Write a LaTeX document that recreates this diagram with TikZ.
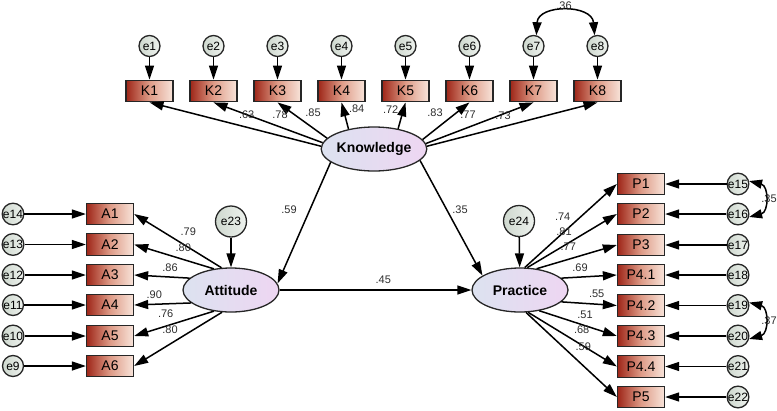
\documentclass[tikz,border=0pt]{standalone}
\usepackage{fontspec}
\setmainfont{Liberation Sans}
\usetikzlibrary{arrows.meta,shapes.geometric}
\definecolor{bxdark}{RGB}{158,38,24}
\definecolor{bxmid}{RGB}{222,155,135}
\definecolor{bxlight}{RGB}{248,228,218}
\definecolor{elleft}{RGB}{220,226,240}
\definecolor{elright}{RGB}{238,214,242}
\definecolor{ecdark}{RGB}{206,216,206}
\definecolor{eclight}{RGB}{238,242,238}
\definecolor{lblc}{RGB}{45,45,45}
\begin{document}
\begin{tikzpicture}[x=1pt,y=-1pt,
  obs/.style={draw=black!85, line width=1.3pt, minimum width=47pt, minimum height=21.5pt, inner sep=0pt,
    left color=bxdark, right color=bxlight, middle color=bxmid, font=\fontsize{14}{16}\selectfont},
  lat/.style={ellipse, draw=black!85, line width=1.3pt, minimum width=96pt, minimum height=44pt, inner sep=0pt,
    left color=elleft, right color=elright, font=\bfseries\fontsize{14}{16}\selectfont},
  err/.style={circle, draw=black!85, line width=1.3pt, minimum size=21pt, inner sep=0pt,
    left color=ecdark, right color=eclight, font=\fontsize{12}{13}\selectfont},
  errbig/.style={err, minimum size=31pt},
  arr/.style={-{Triangle[length=14pt,width=9pt]}, line width=1.5pt},
  cov/.style={{Triangle[length=13pt,width=9pt]}-{Triangle[length=13pt,width=9pt]}, line width=1.5pt},
  lab/.style={font=\fontsize{11}{12}\selectfont, text=lblc, inner sep=0pt}]
\useasboundingbox (0,0) rectangle (777,410);

% latent
\node[lat] (Know) at (374,149) {Knowledge};
\node[lat] (Att) at (231,290) {Attitude};
\node[lat] (Prac) at (520,290) {Practice};
\node[errbig] (e23) at (231,221.5) {e23};
\node[errbig] (e24) at (519,221) {e24};

% knowledge indicators
\foreach \i in {1,...,8}{
  \pgfmathsetmacro{\xx}{149.5+64*(\i-1)}
  \node[obs] (K\i) at (\xx,91) {K\i};
  \node[err] (e\i) at (\xx,46) {e\i};
  \draw[arr] (e\i) -- (K\i);
}
\foreach \i/\a in {1/177,2/173,3/167,4/142,5/40,6/11,7/6,8/3}{
  \draw[arr] (Know.\a) -- (K\i.south);
}

% attitude indicators
\foreach \i/\y/\e/\a in {1/214/14/113,2/244.5/13/129,3/275/12/164,4/305/11/198.6,5/336/10/231,6/366/9/248}{
  \node[obs] (A\i) at (110,\y) {A\i};
  \node[err] (e\e) at (13,\y) {e\e};
  \draw[arr] (e\e) -- (A\i);
  \draw[arr] (Att.\a) -- (A\i.east);
}

% practice indicators
\foreach \n/\t/\y/\e/\a in {1/P1/184/15/78,2/P2/214/16/72,3/P3/245/17/52,4/P4.1/275/18/16,5/P4.2/305.5/19/-16,6/P4.3/336/20/-47,7/P4.4/366.5/21/-70,8/P5/397/22/-75}{
  \node[obs] (P\n) at (641,\y) {\t};
  \node[err] (e\e) at (738,\y) {e\e};
  \draw[arr] (e\e) -- (P\n);
  \draw[arr] (Prac.\a) -- (P\n.west);
}

% structural paths
\draw[arr] (Know.197) -- (Att.8);
\draw[arr] (Know.-14) -- (Prac.159);
\draw[arr] (Att) -- (Prac);
\draw[arr] (e23) -- (Att);
\draw[arr] (e24) -- (Prac);

% covariances
\draw[cov] (e7.75) .. controls (538,4) and (592,4) .. (e8.105);
\draw[cov] (e15.15) .. controls (769,186) and (769,212) .. (e16.-15);
\draw[cov] (e19.15) .. controls (769,307.5) and (769,333.5) .. (e20.-15);

% labels
\node[lab] (c36) at (564,6) {.36};
\node[lab] (c35) at (769,199) {.35};
\node[lab] (c37) at (769,320.7) {.37};

\node[lab] (lk1) at (246.7,115) {.63};
\node[lab] (lk2) at (280,115) {.78};
\node[lab] (lk3) at (313,113) {.85};
\node[lab] (lk4) at (356.7,109) {.84};
\node[lab] (lk5) at (390.7,110) {.72};
\node[lab] (lk6) at (435,113) {.83};
\node[lab] (lk7) at (468,115) {.77};
\node[lab] (lk8) at (503,116) {.73};

\node[lab] (la1) at (188.3,231.7) {.79};
\node[lab] (la2) at (183.3,247.3) {.80};
\node[lab] (la3) at (170,267.3) {.86};
\node[lab] (la4) at (154.3,294.3) {.90};
\node[lab] (la5) at (165.7,314) {.76};
\node[lab] (la6) at (170,330) {.80};

\node[lab] (lp1) at (562.7,216.7) {.74};
\node[lab] (lp2) at (564,231.7) {.81};
\node[lab] (lp3) at (568.3,246.7) {.77};
\node[lab] (lp4) at (580,267.3) {.69};
\node[lab] (lp5) at (596.7,294) {.55};
\node[lab] (lp6) at (585,314.3) {.51};
\node[lab] (lp7) at (581.7,330) {.68};
\node[lab] (lp8) at (583.3,346.7) {.59};

\node[lab] (s1) at (289,210) {.59};
\node[lab] (s2) at (460,209.3) {.35};
\node[lab] (s3) at (383.3,280) {.45};
\end{tikzpicture}
\end{document}
